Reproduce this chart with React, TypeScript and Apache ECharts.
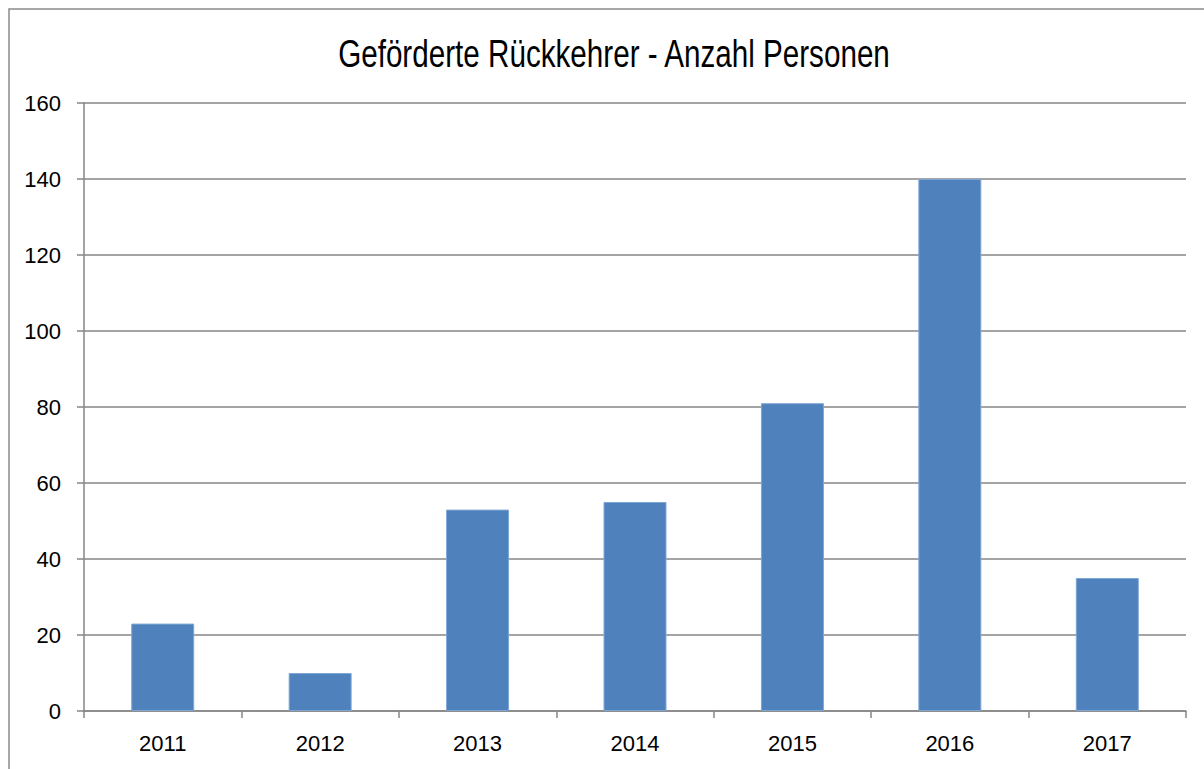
import React, { useEffect, useRef } from "react";
import * as echarts from "echarts";

const titleText = "Geförderte Rückkehrer - Anzahl Personen";
const years = ["2011", "2012", "2013", "2014", "2015", "2016", "2017"];
const persons = [23, 10, 53, 55, 81, 140, 35];
const yMin = 0;
const yMax = 160;
const yStep = 20;

const FONT = "'Liberation Sans', Arial, sans-serif";

export default function App() {
  const ref = useRef<HTMLDivElement>(null);
  useEffect(() => {
    if (!ref.current) return;
    const chart = echarts.init(ref.current, null, { renderer: "svg" });
    chart.setOption({
      animation: false,
      backgroundColor: "#ffffff",
      graphic: [
        {
          type: "rect",
          shape: { x: 9, y: 9, width: 1400, height: 1000 },
          style: { fill: "none", stroke: "#8a8a8a", lineWidth: 1.5 },
          silent: true,
        },
        {
          type: "text",
          x: 614,
          y: 53,
          scaleX: 0.76,
          style: {
            text: titleText,
            fontFamily: FONT,
            fontSize: 39,
            fill: "#000",
            textAlign: "center",
            textVerticalAlign: "middle",
          },
          silent: true,
        },
      ],
      grid: { left: 84, right: 18, top: 103, bottom: 58 },
      xAxis: {
        type: "category",
        data: years,
        axisLine: { lineStyle: { color: "#868686", width: 1.5 } },
        axisTick: { show: true, length: 7, lineStyle: { color: "#868686", width: 1.5 } },
        axisLabel: { fontFamily: FONT, fontSize: 22, color: "#000", margin: 21 },
      },
      yAxis: {
        type: "value",
        min: yMin,
        max: yMax,
        interval: yStep,
        axisLine: { show: true, lineStyle: { color: "#868686", width: 1.5 } },
        axisTick: { show: true, length: 7, lineStyle: { color: "#868686", width: 1.5 } },
        splitLine: { lineStyle: { color: "#868686", width: 1.5 } },
        axisLabel: { fontFamily: FONT, fontSize: 22, color: "#000", margin: 23 },
      },
      series: [
        {
          type: "bar",
          data: persons,
          barWidth: "40%",
          itemStyle: { color: "#4F81BD", borderColor: "#7ea6d6", borderWidth: 1 },
        },
      ],
    });
    return () => chart.dispose();
  }, []);
  return (
    <div
      ref={ref}
      style={{ position: "absolute", left: 0, top: 0, width: 1204, height: 769 }}
    />
  );
}
